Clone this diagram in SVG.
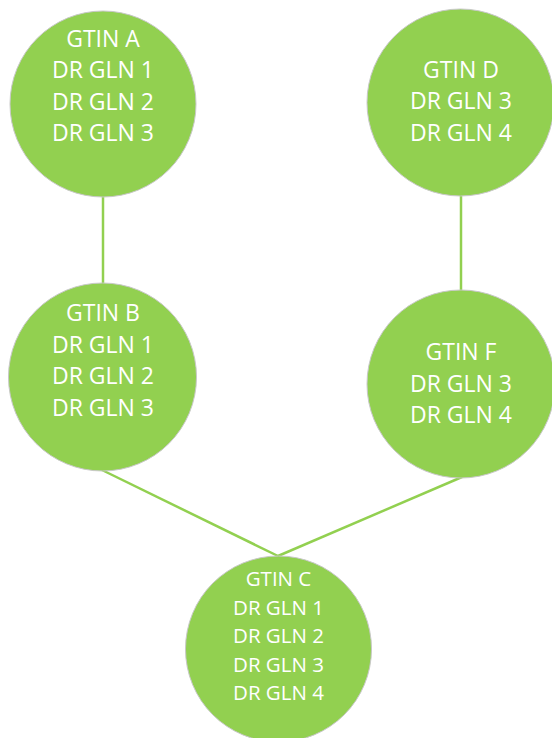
<svg xmlns="http://www.w3.org/2000/svg" width="552" height="738" viewBox="0 0 552 738">
  <style>
    .node { fill: #92D050; stroke: #C8C8C8; stroke-width: 1; }
    .lbl { fill: #FFFFFF; font-family: "Open Sans", "Noto Sans", sans-serif; font-size: 23px; text-anchor: middle; }
    .lbl.small { font-size: 20.5px; }
    .edge { stroke: #92D050; stroke-width: 2.5; fill: none; }
  </style>
  <rect width="552" height="738" fill="#FFFFFF"/>
  <g id="connectors">
    <line class="edge" x1="103" y1="196" x2="103" y2="284"/>
    <line class="edge" x1="461" y1="195" x2="461" y2="291"/>
    <line class="edge" x1="102" y1="470" x2="278" y2="556"/>
    <line class="edge" x1="462" y1="477" x2="278" y2="556"/>
  </g>
  <g id="gtin-a">
    <circle class="node" cx="103" cy="104" r="93"/>
    <text class="lbl" x="103" y="46.5">GTIN A</text>
    <text class="lbl" x="103" y="78">DR GLN 1</text>
    <text class="lbl" x="103" y="109.5">DR GLN 2</text>
    <text class="lbl" x="103" y="141">DR GLN 3</text>
  </g>
  <g id="gtin-d">
    <circle class="node" cx="460.5" cy="102.5" r="93.5"/>
    <text class="lbl" x="461" y="77.5">GTIN D</text>
    <text class="lbl" x="461" y="109">DR GLN 3</text>
    <text class="lbl" x="461" y="140.5">DR GLN 4</text>
  </g>
  <g id="gtin-b">
    <circle class="node" cx="102.5" cy="377" r="94"/>
    <text class="lbl" x="103" y="321">GTIN B</text>
    <text class="lbl" x="103" y="352.5">DR GLN 1</text>
    <text class="lbl" x="103" y="384">DR GLN 2</text>
    <text class="lbl" x="103" y="415.5">DR GLN 3</text>
  </g>
  <g id="gtin-f">
    <circle class="node" cx="461" cy="384" r="94"/>
    <text class="lbl" x="461" y="360">GTIN F</text>
    <text class="lbl" x="461" y="391.5">DR GLN 3</text>
    <text class="lbl" x="461" y="423">DR GLN 4</text>
  </g>
  <g id="gtin-c">
    <circle class="node" cx="278.5" cy="649" r="93"/>
    <text class="lbl small" x="278.5" y="586">GTIN C</text>
    <text class="lbl small" x="278.5" y="614.5">DR GLN 1</text>
    <text class="lbl small" x="278.5" y="643">DR GLN 2</text>
    <text class="lbl small" x="278.5" y="671.5">DR GLN 3</text>
    <text class="lbl small" x="278.5" y="700">DR GLN 4</text>
  </g>
</svg>
